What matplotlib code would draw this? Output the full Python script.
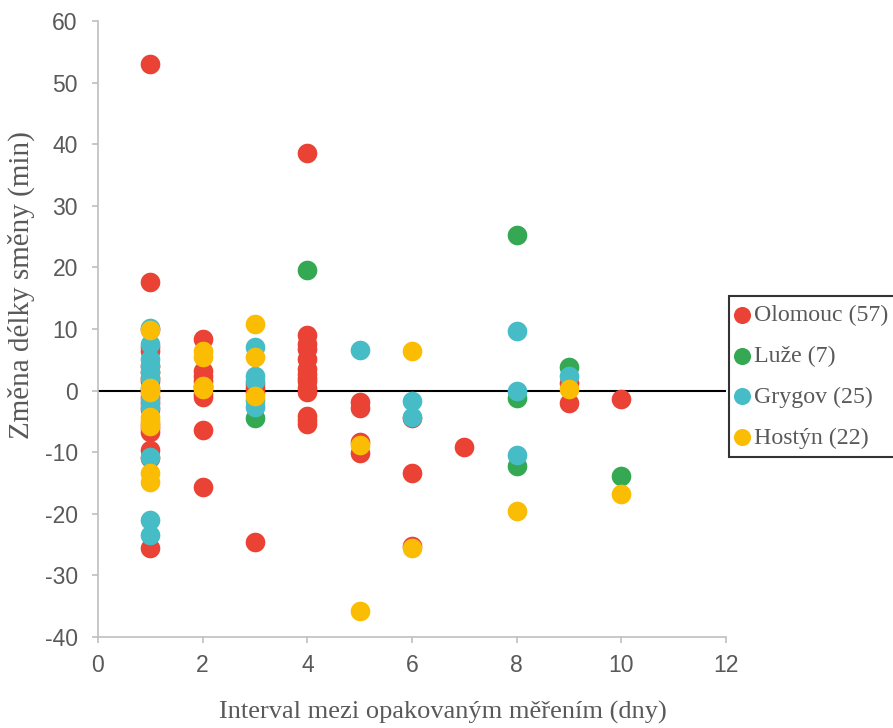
import matplotlib.pyplot as plt

plt.rcParams['axes.unicode_minus'] = False

# data
olomouc_x = [1, 1, 1, 1, 1, 1, 1, 1, 1, 1, 1, 1, 1, 1, 1, 1, 1, 1, 1,
             2, 2, 2, 2, 2, 2, 2, 2, 2,
             3, 3, 3, 3,
             4, 4, 4, 4, 4, 4, 4, 4, 4, 4, 4, 4, 4, 4,
             5, 5, 5, 5,
             6, 6, 6,
             7,
             9, 9,
             10]
olomouc_y = [53, 17.7, 10, 7, 6.5, 4, 3, 2, 1.6, 0, -1, -2, -3, -5.5, -6, -6.8, -9.7, -11, -25.5,
             8.4, 3.2, 2.3, 1.5, 0.8, -0.5, -1, -6.4, -15.7,
             1.1, 0.5, -0.3, -24.6,
             38.5, 9, 7.5, 6.8, 5.2, 3.5, 2.7, 2, 1.6, 0.5, -0.3, -4.1, -4.8, -5.4,
             -1.8, -2.9, -8.4, -10.2,
             -4.5, -13.4, -25.3,
             -9.2,
             1.3, -2.0,
             -1.3]

luze_x = [3, 4, 8, 8, 8, 9, 10]
luze_y = [-4.4, 19.5, 25.2, -1.2, -12.3, 3.8, -13.9]

grygov_x = [1, 1, 1, 1, 1, 1, 1, 1, 1, 1, 1, 1,
            2,
            3, 3, 3, 3, 3,
            5,
            6, 6,
            8, 8, 8,
            9]
grygov_y = [10.2, 7.6, 5.2, 4, 3, 2.1, 0.5, -1.5, -2.7, -10.8, -21, -23.4,
            0.5,
            7.0, 2.4, 1.5, -1.5, -2.7,
            6.6,
            -1.7, -4.3,
            9.7, 0, -10.5,
            2.4]

hostyn_x = [1, 1, 1, 1, 1, 1, 1, 1,
            2, 2, 2, 2,
            3, 3, 3,
            5, 5,
            6, 6,
            8, 9, 10]
hostyn_y = [9.8, 0.5, -0.2, -4.3, -5, -5.7, -13.3, -14.8,
            6.5, 5.5, 0.8, 0.3,
            10.8, 5.4, -0.8,
            -8.8, -35.7,
            6.4, -25.6,
            -19.5, 0.3, -16.8]

series = [
    ("Olomouc (57)", olomouc_x, olomouc_y, "#EA4335"),
    ("Luže (7)", luze_x, luze_y, "#34A853"),
    ("Grygov (25)", grygov_x, grygov_y, "#46BDC6"),
    ("Hostýn (22)", hostyn_x, hostyn_y, "#FBBC04"),
]

W, H = 893, 728
fig = plt.figure(figsize=(W / 100, H / 100), dpi=100)
ax = fig.add_axes([98 / W, 1 - 637 / H, 628 / W, 616 / H])

for name, xs, ys, col in series:
    ax.scatter(xs, ys, s=200, color=col, label=name, linewidths=0, zorder=3)

ax.axhline(0, color="black", linewidth=1.5, zorder=2)

ax.set_xlim(0, 12)
ax.set_ylim(-40, 60)
ax.set_xticks(range(0, 13, 2))
ax.set_yticks(range(-40, 61, 10))

for s in ["top", "right"]:
    ax.spines[s].set_visible(False)
for s in ["left", "bottom"]:
    ax.spines[s].set_color("#bfbfbf")
    ax.spines[s].set_linewidth(1.2)
ax.tick_params(colors="#bfbfbf", labelcolor="#595959", labelsize=16.5, length=4.5, width=1.2)
ax.tick_params(axis="y", pad=10)
ax.tick_params(axis="x", pad=8)
for lab in ax.get_xticklabels() + ax.get_yticklabels():
    lab.set_fontfamily("Liberation Sans")

# axis titles (placed like in the original, slightly off-centre)
fig.text(443 / W, 1 - 712 / H, "Interval mezi opakovaným měřením (dny)", ha="center", va="center",
         fontfamily="Liberation Serif", fontsize=19, color="#595959")
fig.text(21 / W, 1 - 285 / H, "Změna délky směny (min)", ha="center", va="center", rotation=90,
         fontfamily="Liberation Serif", fontsize=21, color="#595959")

leg = ax.legend(loc="upper left", bbox_to_anchor=(729 / W, 1 - 296 / H), bbox_transform=fig.transFigure,
                frameon=True, fancybox=False, markerscale=0.87,
                handletextpad=0.3, handlelength=0.4, borderpad=0.35, labelspacing=0.8,
                prop={"family": "Liberation Serif", "size": 17.2}, borderaxespad=0)
leg.get_frame().set_edgecolor("black")
leg.get_frame().set_linewidth(1.5)
for t in leg.get_texts():
    t.set_color("#595959")

plt.savefig("out.png", dpi=100)
